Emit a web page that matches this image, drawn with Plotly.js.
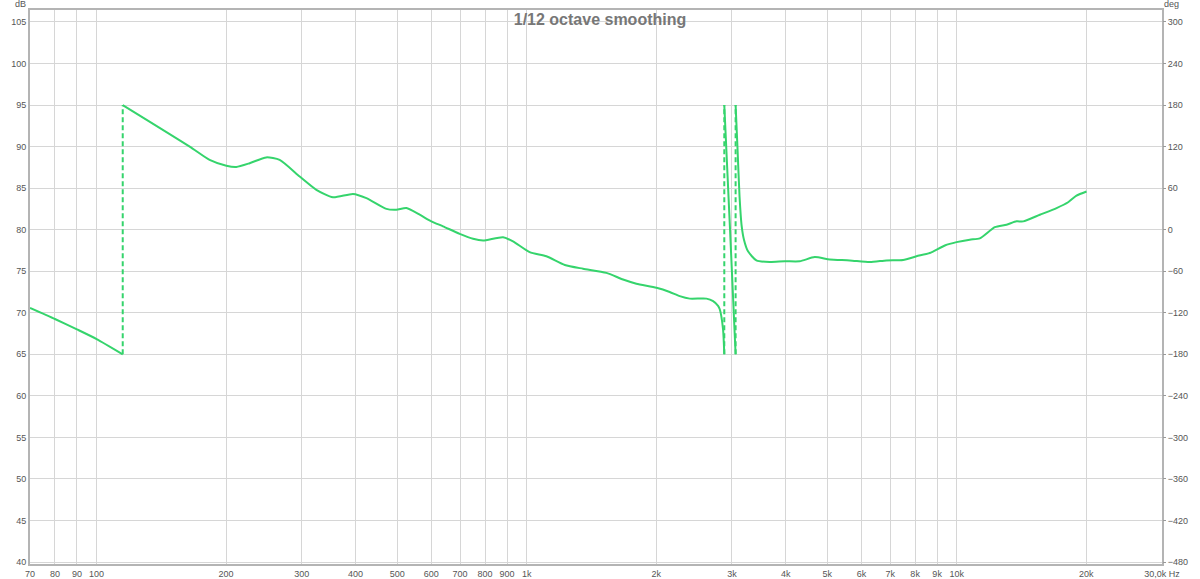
<!DOCTYPE html>
<html>
<head>
<meta charset="utf-8">
<script src="https://cdn.plot.ly/plotly-3.0.1.min.js"></script>
<style>
  html, body { margin: 0; padding: 0; background: #fff; }
  #chart { width: 1200px; height: 579px; }
</style>
</head>
<body>
<div id="chart"></div>
<script>
// ---- Data (phase in degrees) ----
const seg1Freq  = [70, 80, 90, 100, 115];
const seg1Phase = [-113, -129, -144, -158, -180];

const seg2Freq  = [115, 164.6, 183.1, 200.3, 211.3, 226.9, 248, 266.4, 296.6, 324.3, 354.4, 394.5, 423.9,
                   471.9, 497.7, 525.2, 563.9, 600.3, 638.9, 698.5, 750.3, 791.6, 880.8, 929.3, 1016,
                   1111, 1226, 1352, 1532, 1675, 1799, 2003, 2150, 2269, 2394, 2618, 2713, 2786, 2811, 2861, 2880];
const seg2Phase = [180, 120, 100.8, 92.4, 90.6, 96, 104.4, 100.8, 76.8, 57.6, 46.8, 51.6, 45.6,
                   30, 28.8, 31.2, 21.6, 12, 4.8, -6, -13.2, -15.6, -10.8, -16.8, -32.4,
                   -38.4, -51, -56.4, -62.4, -72, -78, -84, -90, -96, -99.6, -99.6, -103.2, -110, -115, -144, -180];

const seg3Freq  = [2880, 2970, 3060];
const seg3Phase = [180, 0, -180];

const seg4Freq  = [3060, 3090, 3125, 3160, 3200, 3270, 3420, 3674, 3981, 4313, 4674, 5066, 5639, 6277,
                   6863, 7502, 8058, 8652, 9379, 9985, 10720, 11310, 12260, 13050, 13770, 14270,
                   15600, 17060, 18150, 18980, 20030];
const seg4Phase = [180, 120, 48, 6, -14.4, -31.2, -44.4, -46.8, -45.6, -45.6, -39.6, -43.2, -44.4, -46.8,
                   -44.4, -43.8, -38.4, -33.6, -22.8, -18, -14.4, -12.6, 3.6, 7.2, 12, 12,
                   21.6, 31.2, 39.6, 49.2, 55.2];

const wrapFreq  = [115, 2880, 3060];
const wrapLow   = -180;
const wrapHigh  = 180;

const xTickVals = [70, 80, 90, 100, 200, 300, 400, 500, 600, 700, 800, 900, 1000, 2000, 3000, 4000,
                   5000, 6000, 7000, 8000, 9000, 10000, 20000, 30000];
const xTickText = ['70', '80', '90', '100', '200', '300', '400', '500', '600', '700', '800', '900', '1k',
                   '2k', '3k', '4k', '5k', '6k', '7k', '8k', '9k', '10k', '20k', '30,0k Hz'];
const dbTicks   = [40, 45, 50, 55, 60, 65, 70, 75, 80, 85, 90, 95, 100, 105];
const degTicks  = [-480, -420, -360, -300, -240, -180, -120, -60, 0, 60, 120, 180, 240, 300];

// ---- Build traces ----
const segs = [[seg1Freq, seg1Phase], [seg2Freq, seg2Phase], [seg3Freq, seg3Phase], [seg4Freq, seg4Phase]];
const lx = [], ly = [];
segs.forEach(([f, p], i) => {
  if (i > 0) { lx.push(null); ly.push(null); }
  f.forEach((v, j) => { lx.push(v); ly.push(p[j]); });
});
const wx = [], wy = [];
wrapFreq.forEach((f, i) => {
  if (i > 0) { wx.push(null); wy.push(null); }
  wx.push(f, f); wy.push(wrapLow, wrapHigh);
});

const green = '#35d46c';
const traces = [
  // invisible trace so that the left dB axis is drawn
  { x: [1000], y: [80], yaxis: 'y', mode: 'markers', marker: { opacity: 0, size: 1 },
    hoverinfo: 'skip', showlegend: false },
  { x: lx, y: ly, yaxis: 'y2', mode: 'lines', connectgaps: false,
    line: { color: green, width: 2, shape: 'spline', smoothing: 0.6 }, hoverinfo: 'skip', showlegend: false },
  { x: wx, y: wy, yaxis: 'y2', mode: 'lines', connectgaps: false,
    line: { color: green, width: 2, dash: '5px,3px' }, hoverinfo: 'skip', showlegend: false },
];

const yLo = 39.76, yHi = 106.44;
const tickFont = { family: 'Liberation Sans, Arial, sans-serif', size: 9, color: '#555' };
const layout = {
  width: 1200, height: 579,
  margin: { l: 30, r: 38, t: 10, b: 15 },
  paper_bgcolor: '#fff', plot_bgcolor: '#fff',
  showlegend: false,
  title: { text: '<b>1/12 octave smoothing</b>', x: 0.5, xref: 'container', xanchor: 'center',
           y: 1 - 19 / 579, yref: 'container', yanchor: 'middle',
           font: { family: 'Liberation Sans, Arial, sans-serif', size: 16, color: '#777' } },
  xaxis: {
    type: 'log', range: [Math.log10(70), Math.log10(30000)],
    tickmode: 'array', tickvals: xTickVals, ticktext: xTickText,
    showgrid: true, gridcolor: '#d6d6d6', gridwidth: 1,
    showline: true, linecolor: '#b4b4b4', linewidth: 2, mirror: true,
    ticks: '', tickfont: tickFont, automargin: false, zeroline: false,
  },
  yaxis: {
    range: [yLo, yHi], tickmode: 'array', tickvals: dbTicks,
    showgrid: true, gridcolor: '#d6d6d6', gridwidth: 1,
    showline: true, linecolor: '#b4b4b4', linewidth: 2, mirror: true,
    ticks: '', tickfont: tickFont, automargin: false, zeroline: false,
  },
  yaxis2: {
    overlaying: 'y', side: 'right',
    range: [(yLo - 80) * 12, (yHi - 80) * 12], tickmode: 'array', tickvals: degTicks,
    showgrid: false, zeroline: false, showline: false,
    ticks: 'outside', ticklen: 3, tickcolor: '#999', tickfont: tickFont, automargin: false,
  },
  annotations: [
    { text: 'dB', xref: 'paper', yref: 'paper', x: -0.0088, y: 1 + 6 / 554, xanchor: 'center', yanchor: 'middle',
      showarrow: false, font: tickFont },
    { text: 'deg', xref: 'paper', yref: 'paper', x: 1.0088, y: 1 + 6 / 554, xanchor: 'center', yanchor: 'middle',
      showarrow: false, font: tickFont },
  ],
};

Plotly.newPlot('chart', traces, layout, { staticPlot: true, displayModeBar: false });
</script>
</body>
</html>
